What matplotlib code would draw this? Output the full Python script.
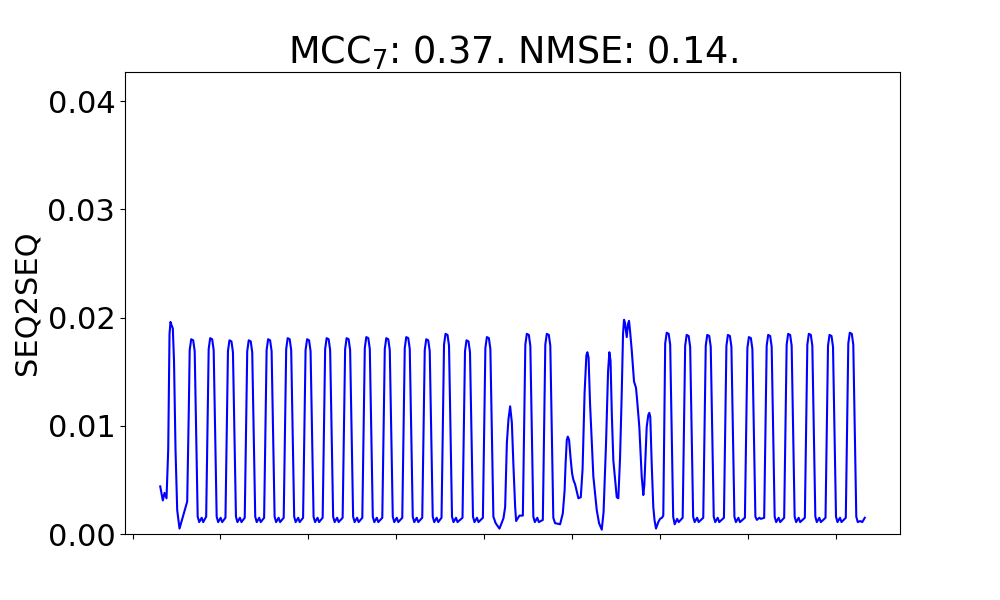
import matplotlib
matplotlib.use("Agg")
import matplotlib.pyplot as plt

plt.rcParams['font.size'] = 22

title_text = r"MCC$_7$: 0.37. NMSE: 0.14."
y_label = "SEQ2SEQ"
x_ticks = [0, 88, 176, 264, 352, 440, 528, 616, 704]
y_ticks = [0.00, 0.01, 0.02, 0.03, 0.04]
y_limits = (0.0, 0.0427)

# time positions of the traced signal
t_vals = [
    27.7, 30.3, 32.0, 34.0, 35.7, 37.0, 38.0, 39.0, 40.3, 41.5, 43.0, 44.7, 47.0, 51.3,
    54.7, 56.3, 57.2, 58.7, 60.7, 62.2, 65.2, 66.7, 69.2, 70.7,
    73.7, 76.2, 77.7, 79.7, 81.2, 84.2, 85.7, 88.2, 89.7,
    93.0, 95.5, 97.0, 99.0, 100.5, 103.5, 105.0, 107.5, 109.0,
    112.3, 114.8, 116.3, 118.3, 119.8, 122.8, 124.3, 126.8, 128.3,
    131.7, 134.2, 135.7, 137.7, 139.2, 142.2, 143.7, 146.2, 147.7,
    151.3, 153.8, 155.3, 157.3, 158.8, 161.8, 163.3, 165.8, 167.3,
    170.7, 173.2, 174.7, 176.7, 178.2, 181.2, 182.7, 185.2, 186.7,
    190.3, 192.8, 194.3, 196.3, 197.8, 200.8, 202.3, 204.8, 206.3,
    210.3, 212.8, 214.3, 216.3, 217.8, 220.8, 222.3, 224.8, 226.3,
    230.0, 232.5, 234.0, 236.0, 237.5, 240.5, 242.0, 244.5, 246.0,
    250.0, 252.5, 254.0, 256.0, 257.5, 260.5, 262.0, 264.5, 266.0,
    270.0, 272.5, 274.0, 276.0, 277.5, 280.5, 282.0, 284.5, 286.0,
    290.0, 292.5, 294.0, 296.0, 297.5, 300.5, 302.0, 304.5, 306.0,
    309.3, 311.8, 313.3, 315.3, 316.8, 319.8, 321.3, 323.8, 325.3,
    330.3, 332.8, 334.3, 336.3, 337.8, 340.8, 342.3, 344.8, 346.3,
    350.7, 353.2, 354.7, 356.7, 358.2, 361.2, 363.5, 367.3, 371.3,
    373.0, 374.7, 376.3, 378.0, 379.7, 381.3, 383.0, 384.0, 387.3, 390.7,
    393.2, 394.7, 396.7, 398.2, 401.2, 402.7, 405.2, 406.7,
    410.7, 413.2, 414.7, 416.7, 418.2, 421.2, 423.0, 428.0, 430.7,
    432.5, 433.5, 434.7, 435.7, 437.0, 438.5, 440.0, 441.3, 443.0, 444.5, 446.3, 448.7,
    450.5, 452.5, 454.3, 455.3, 456.5, 458.0, 461.3, 464.7, 467.0, 469.7,
    471.5, 474.0, 476.0, 477.3, 478.5, 479.8, 481.3, 484.7, 486.3,
    488.0, 489.7, 491.0, 492.0, 493.0, 494.7, 496.0, 497.0, 498.0, 499.7, 502.0, 504.0,
    505.0, 507.3, 509.7, 511.3,
    512.3, 514.7, 516.3, 517.3, 518.3, 519.7, 521.3, 522.5, 524.0, 526.3, 528.0, 530.0, 531.3,
    533.2, 534.7, 536.7, 538.2, 541.2, 542.7, 545.2, 546.7,
    550.7, 553.2, 554.7, 556.7, 558.2, 561.2, 562.7, 565.2, 566.7,
    571.3, 573.8, 575.3, 577.3, 578.8, 581.8, 583.3, 585.8, 587.3,
    592.0, 594.5, 596.0, 598.0, 599.5, 602.5, 604.0, 606.5, 608.0,
    613.0, 615.5, 617.0, 619.0, 620.5, 623.5, 625.0, 627.5, 629.0,
    632.3, 634.8, 636.3, 638.3, 639.8, 642.8, 644.3, 646.8, 648.3,
    652.3, 654.8, 656.3, 658.3, 659.8, 662.8, 664.3, 666.8, 668.3,
    673.0, 675.5, 677.0, 679.0, 680.5, 683.5, 685.0, 687.5, 689.0,
    693.7, 696.2, 697.7, 699.7, 701.2, 704.2, 705.7, 708.2, 709.7,
    714.0, 716.5, 718.0, 720.0, 721.5, 724.5, 726.0, 728.5, 730.5, 733.0,
]

# SEQ2SEQ values
seq2seq_vals = [
    .0044, .0031, .0038, .0033, .0078, .0185, .0196, .0193, .0190, .0160, .0078, .0022, .0005, .0019,
    .0030, .0115, .0170, .0180, .0179, .0169, .0016, .0011, .0015, .0011,
    .0016, .0171, .0181, .0180, .0170, .0016, .0011, .0015, .0011,
    .0015, .0169, .0179, .0178, .0168, .0016, .0011, .0015, .0011,
    .0015, .0169, .0179, .0178, .0168, .0016, .0011, .0015, .0011,
    .0015, .0170, .0180, .0179, .0169, .0016, .0011, .0015, .0011,
    .0015, .0171, .0181, .0180, .0170, .0016, .0011, .0015, .0011,
    .0015, .0170, .0180, .0179, .0169, .0016, .0011, .0015, .0011,
    .0015, .0171, .0181, .0180, .0170, .0016, .0011, .0015, .0011,
    .0015, .0171, .0181, .0180, .0170, .0016, .0011, .0015, .0011,
    .0015, .0172, .0182, .0181, .0171, .0016, .0011, .0015, .0011,
    .0015, .0171, .0181, .0180, .0170, .0016, .0011, .0015, .0011,
    .0015, .0172, .0182, .0181, .0171, .0016, .0011, .0015, .0011,
    .0015, .0170, .0180, .0179, .0169, .0016, .0011, .0015, .0011,
    .0015, .0175, .0185, .0184, .0174, .0016, .0011, .0015, .0011,
    .0015, .0169, .0179, .0178, .0168, .0016, .0011, .0015, .0011,
    .0015, .0172, .0182, .0181, .0171, .0016, .0010, .0005, .00145,
    .0025, .0084, .0106, .0118, .0103, .0063, .0025, .0012, .0017, .0017,
    .0175, .0185, .0184, .0174, .0016, .0011, .0015, .0011,
    .0013, .0175, .0185, .0184, .0174, .0015, .0010, .0009, .0019,
    .0040, .0065, .0087, .0090, .0087, .0070, .0056, .0050, .0046, .0040, .0033, .0034,
    .0060, .0130, .0165, .0168, .0163, .0120, .0053, .0022, .0010, .0004,
    .0020, .0084, .0150, .0168, .0160, .0110, .0068, .0034, .0033,
    .0070, .0130, .0185, .0198, .0195, .0182, .0194, .0197, .0188, .0170, .0141, .0135,
    .0125, .0099, .0053, .0036,
    .0045, .0099, .0110, .0112, .0108, .0065, .0025, .0013, .0005, .0011, .0014, .0015, .0017,
    .0176, .0186, .0185, .0175, .0016, .0009, .0014, .0011,
    .0015, .0174, .0184, .0183, .0173, .0016, .0011, .0015, .0011,
    .0015, .0174, .0184, .0183, .0173, .0016, .0011, .0015, .0011,
    .0015, .0174, .0184, .0183, .0173, .0016, .0011, .0015, .0011,
    .0015, .0172, .0182, .0181, .0171, .0016, .0013, .0015, .0014,
    .0015, .0174, .0184, .0183, .0173, .0016, .0011, .0015, .0011,
    .0015, .0175, .0185, .0184, .0174, .0016, .0011, .0015, .0011,
    .0015, .0175, .0185, .0184, .0174, .0016, .0011, .0015, .0011,
    .0015, .0174, .0184, .0183, .0173, .0016, .0011, .0015, .0011,
    .0015, .0176, .0186, .0185, .0175, .0016, .0011, .0012, .0011, .0015,
]

fig, ax = plt.subplots(figsize=(10, 6), dpi=100)
ax.plot(t_vals, seq2seq_vals, color='blue', linewidth=1.5)
ax.set_ylim(*y_limits)
ax.set_yticks(y_ticks)
ax.set_xticks(x_ticks)
ax.tick_params(axis='x', labelbottom=False)
ax.set_ylabel(y_label)
ax.set_title(title_text)
fig.savefig("out.png", dpi=100)
